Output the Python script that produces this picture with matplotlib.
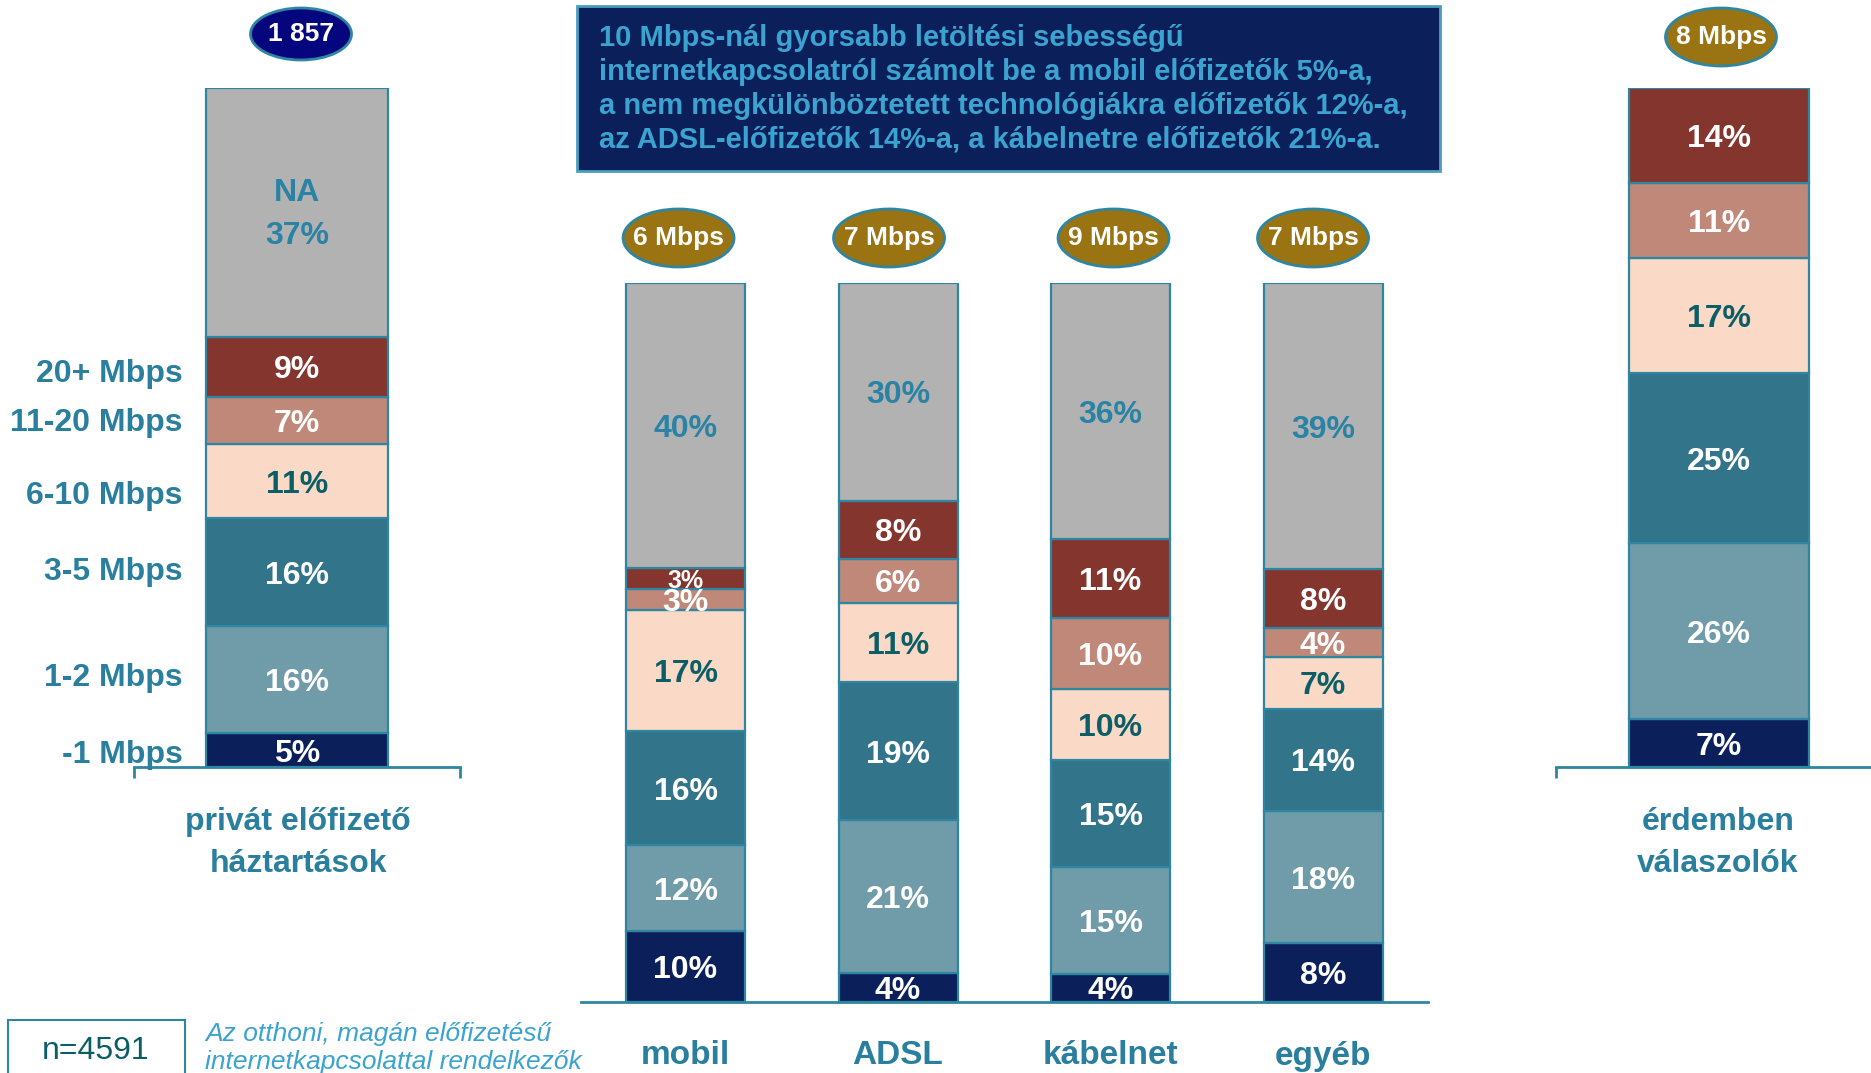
import matplotlib
matplotlib.use('Agg')
import matplotlib.pyplot as plt
from matplotlib.patches import Ellipse, Rectangle
from matplotlib.transforms import blended_transform_factory

plt.rcParams['font.family'] = ['Liberation Sans', 'DejaVu Sans']

# Data (bottom -> top)
speed_labels = ['-1 Mbps', '1-2 Mbps', '3-5 Mbps', '6-10 Mbps', '11-20 Mbps', '20+ Mbps', 'NA']
privat = [5, 16, 16, 11, 7, 9, 37]
mobil = [10, 12, 16, 17, 3, 3, 40]
adsl = [4, 21, 19, 11, 6, 8, 30]
kabelnet = [4, 15, 15, 10, 10, 11, 36]
egyeb = [8, 18, 14, 7, 4, 8, 39]
erdemben = [7, 26, 25, 17, 11, 14]

tech_names = ['mobil', 'ADSL', 'kábelnet', 'egyéb']
tech_medians = ['6 Mbps', '7 Mbps', '9 Mbps', '7 Mbps']
privat_n = '1 857'
erdemben_median = '8 Mbps'

colors = ['#0B1F5A', '#709BA8', '#32748A', '#FADAC6', '#C08878', '#84352D', '#B2B2B2']
text_colors = ['white', 'white', 'white', '#0B5E66', 'white', 'white', '#2A82A4']
TEAL = '#2A7F9E'
EDGE = '#2E86A3'

W, H = 1871, 1073
fig = plt.figure(figsize=(W / 100, H / 100), dpi=100)


def px_axes(x0, x1, ytop, ybot):
    return fig.add_axes([x0 / W, 1 - ybot / H, (x1 - x0) / W, (ybot - ytop) / H])


def draw_stack(ax, x, values, width, small_top=False, na_label=False):
    total = sum(values)
    bottom = 0
    centers = []
    for i, v in enumerate(values):
        h = v / total * 100
        ax.bar(x, h, width, bottom=bottom, color=colors[i], edgecolor=EDGE, linewidth=1.6)
        fs = 23
        if small_top and i == 5:
            fs = 18
        if i == 6 and na_label:
            ax.text(x, bottom + h / 2 - 0.3, f'NA\n{v}%', ha='center', va='center', fontsize=fs,
                    fontweight='bold', color=text_colors[i], linespacing=1.6)
        else:
            ax.text(x, bottom + h / 2, f'{v}%', ha='center', va='center_baseline', fontsize=fs,
                    fontweight='bold', color=text_colors[i])
        centers.append(bottom + h / 2)
        bottom += h
    return centers


def style_axes(ax, ticks=True):
    for s in ['top', 'left', 'right']:
        ax.spines[s].set_visible(False)
    ax.spines['bottom'].set_color(EDGE)
    ax.spines['bottom'].set_linewidth(2)
    ax.set_yticks([])
    ax.set_ylim(0, 100)
    if ticks:
        ax.set_xticks([0, 1])
        ax.tick_params(axis='x', direction='out', length=8, width=2, color=EDGE, labelbottom=False)
    else:
        ax.set_xticks([])
    ax.patch.set_visible(False)


def ellipse(cx, cy, w, h, fc, text):
    fig.add_artist(Ellipse((cx / W, 1 - cy / H), w / W, h / H, transform=fig.transFigure,
                           facecolor=fc, edgecolor=EDGE, linewidth=2))
    fig.text(cx / W, 1 - cy / H, text, ha='center', va='center', fontsize=19,
             fontweight='bold', color='white')


# Left: private households
ax_left = px_axes(134, 460, 88, 767)
style_axes(ax_left)
ax_left.set_xlim(0, 1)
centers = draw_stack(ax_left, 0.5, privat, 0.558, na_label=True)
ytrans = ax_left.get_yaxis_transform()
label_shift = [-0.7, 0.3, 0, -2.1, -0.3, -1.0]
for lab, c, d in zip(speed_labels[:-1], centers[:-1], label_shift):
    ax_left.text(0.15, c + d, lab, transform=ytrans, ha='right', va='center',
                 fontsize=23, fontweight='bold', color=TEAL)
fig.text(298 / W, 1 - 843 / H, 'privát előfizető\nháztartások', ha='center', va='center',
         fontsize=23, fontweight='bold', color=TEAL, linespacing=1.5)
ellipse(301, 34, 101, 52, '#05057E', privat_n)

# Middle: technologies
ax_mid = px_axes(581, 1428, 283, 1002)
style_axes(ax_mid, ticks=False)
ax_mid.set_xlim(-0.492, 3.494)
for i, vals in enumerate([mobil, adsl, kabelnet, egyeb]):
    draw_stack(ax_mid, i, vals, 0.56, small_top=(i == 0))
btrans = blended_transform_factory(ax_mid.transData, fig.transFigure)
ell_shift = [-7, -9, 3, -10]
for i, name in enumerate(tech_names):
    ax_mid.text(i, 1 - 1056 / H, name, transform=btrans, ha='center', va='center',
                fontsize=24, fontweight='bold', color=TEAL)
    cx = ax_mid.transData.transform((i, 0))[0] + ell_shift[i]
    ellipse(cx, 238, 111, 58, '#9A7412', tech_medians[i])

# Right: meaningful answers
ax_right = px_axes(1556, 1882, 88, 767)
style_axes(ax_right)
ax_right.set_xlim(0, 1)
draw_stack(ax_right, 0.5, erdemben, 0.552)
fig.text(1718 / W, 1 - 843 / H, 'érdemben\nválaszolók', ha='center', va='center',
         fontsize=23, fontweight='bold', color=TEAL, linespacing=1.5)
ellipse(1721, 37, 111, 58, '#9A7412', erdemben_median)

# Info box
fig.add_artist(Rectangle((577 / W, 1 - 171 / H), (1440 - 577) / W, 165 / H,
                         transform=fig.transFigure, facecolor='#0B1F5A',
                         edgecolor='#4A9EC0', linewidth=2))
fig.text(599 / W, 1 - 89 / H,
         '10 Mbps-nál gyorsabb letöltési sebességű\n'
         'internetkapcsolatról számolt be a mobil előfizetők 5%-a,\n'
         'a nem megkülönböztetett technológiákra előfizetők 12%-a,\n'
         'az ADSL-előfizetők 14%-a, a kábelnetre előfizetők 21%-a.',
         ha='left', va='center', fontsize=21, fontweight='bold', color='#3BA3CF',
         linespacing=1.26)

# Footnote
fig.add_artist(Rectangle((8 / W, -0.01), 177 / W, (1073 - 1020) / H + 0.01,
                         transform=fig.transFigure, facecolor='white',
                         edgecolor=EDGE, linewidth=1.5))
fig.text(96 / W, 1 - 1051 / H, 'n=4591', ha='center', va='center', fontsize=23,
         color='#0B5E66')
fig.text(205 / W, 1 - 1048 / H, 'Az otthoni, magán előfizetésű\ninternetkapcsolattal rendelkezők',
         ha='left', va='center', fontsize=19, style='italic', color='#3BA3CF', linespacing=1.25)

fig.savefig('out.png', dpi=100)
